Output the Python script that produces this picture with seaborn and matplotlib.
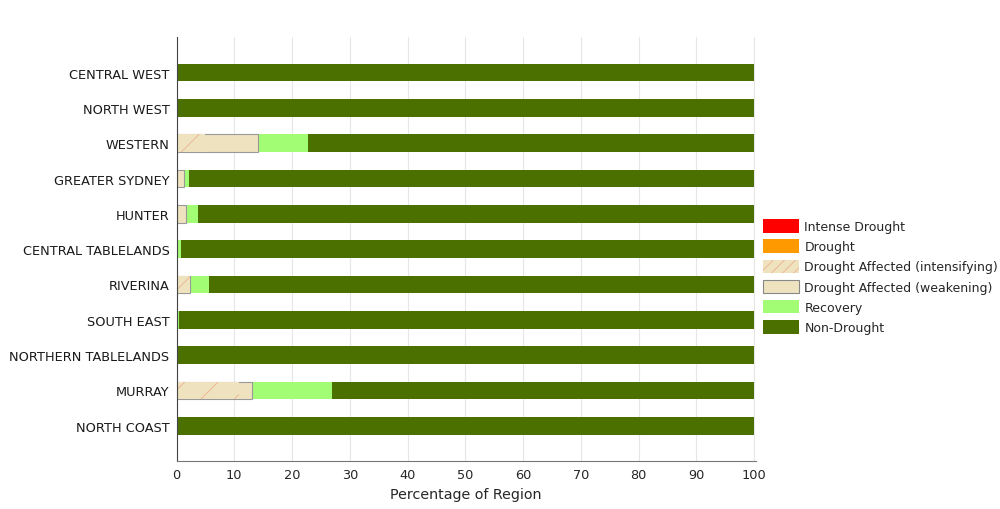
import numpy as np
import matplotlib
matplotlib.use("Agg")
import matplotlib.pyplot as plt
import matplotlib.patches as mpatches
import seaborn as sns

# regions, top to bottom
regions = ["CENTRAL WEST", "NORTH WEST", "WESTERN", "GREATER SYDNEY", "HUNTER",
           "CENTRAL TABLELANDS", "RIVERINA", "SOUTH EAST", "NORTHERN TABLELANDS",
           "MURRAY", "NORTH COAST"]

# percentage of region in each drought category
intense      = [0, 0, 0, 0, 0, 0, 0, 0, 0, 0, 0]
drought      = [0, 0, 0, 0, 0, 0, 0, 0, 0, 0, 0]
intensifying = [0, 0, 5.0, 0, 0, 0, 2.3, 0, 0, 10.8, 0]
weakening    = [0, 0, 9.1, 1.3, 1.7, 0, 0, 0, 0, 2.2, 0]
recovery     = [0, 0, 8.6, 0.8, 2.0, 0.8, 3.3, 0.5, 0, 13.9, 0]
non_drought  = [100, 100, 77.3, 97.9, 96.3, 99.2, 94.4, 99.5, 100, 73.1, 100]

categories = ["Intense Drought", "Drought", "Drought Affected (intensifying)",
              "Drought Affected (weakening)", "Recovery", "Non-Drought"]
colors = ["#ff0000", "#ff9900", "#efe3bf", "#efe3bf", "#a2fc74", "#4b7000"]

sns.set_style("white")
plt.rcParams["font.family"] = ["DejaVu Sans"]
plt.rcParams["hatch.linewidth"] = 0.6

fig = plt.figure(figsize=(10, 5.1), dpi=100)
ax = fig.add_axes([0.1765, 0.094, 0.5795, 0.831])

layers = [intense, drought, intensifying, weakening, recovery, non_drought]
cum = np.cumsum(np.array(layers, dtype=float), axis=0)

# draw from the outermost (largest cumulative) layer inwards
for i in range(len(layers) - 1, -1, -1):
    kw = dict(edgecolor="none", linewidth=0)
    if i == 2:
        kw = dict(edgecolor="#eeb090", linewidth=0, hatch="/")
    elif i == 3:
        kw = dict(edgecolor="#999999", linewidth=0.8)
    sns.barplot(x=cum[i], y=regions, orient="h", color=colors[i],
                saturation=1, width=0.5, ax=ax, **kw)

ax.set_xlim(0, 100.3)
ax.set_ylim(11, -1)
ax.set_xticks(np.arange(0, 101, 10))
ax.xaxis.grid(True, color="#e6e6e6", linewidth=0.8)
ax.yaxis.grid(False)
ax.set_axisbelow(True)
for s in ["top", "right"]:
    ax.spines[s].set_visible(False)
ax.spines["left"].set_color("#444444")
ax.spines["bottom"].set_color("#777777")
ax.tick_params(axis="x", direction="in", length=4, color="#777777",
               labelsize=9.3, labelcolor="#262626", pad=5)
ax.tick_params(axis="y", length=0, labelsize=9.3, labelcolor="#1a1a1a", pad=5)
ax.set_xlabel("Percentage of Region", fontsize=10.3, color="#262626", labelpad=4)
ax.set_ylabel("")

handles = []
for i, (lab, c) in enumerate(zip(categories, colors)):
    if i == 2:
        h = mpatches.Patch(facecolor=c, edgecolor="#eeb090", linewidth=0, hatch="///", label=lab)
    elif i == 3:
        h = mpatches.Patch(facecolor=c, edgecolor="#888888", linewidth=0.8, label=lab)
    else:
        h = mpatches.Patch(facecolor=c, edgecolor="none", label=lab)
    handles.append(h)

fig.legend(handles=handles, loc="upper left", bbox_to_anchor=(0.758, 0.578),
           frameon=False, fontsize=9, handlelength=2.9, handleheight=1.28,
           handletextpad=0.4, labelspacing=0.5, borderaxespad=0)

fig.savefig("out.png", dpi=100, facecolor="white")
